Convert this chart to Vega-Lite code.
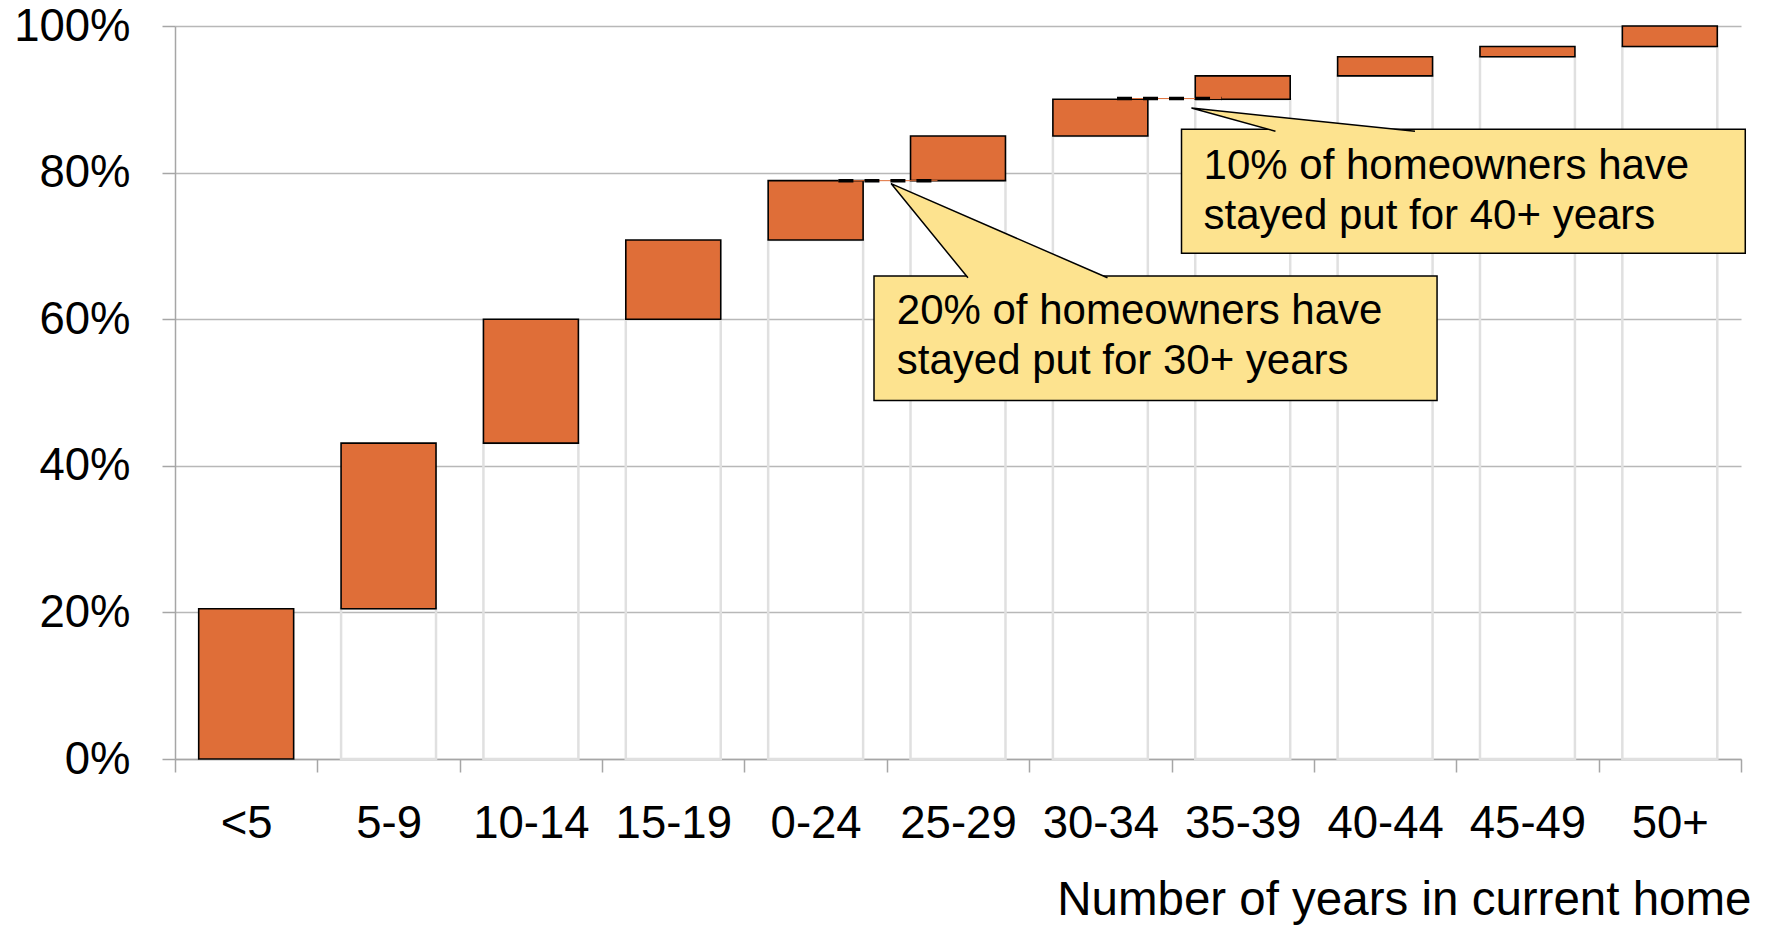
{
  "$schema": "https://vega.github.io/schema/vega-lite/v6.json",
  "width": 1566,
  "height": 733,
  "autosize": {"type": "none"},
  "padding": {"left": 175, "top": 26, "right": 28, "bottom": 167},
  "background": "white",
  "config": {
    "view": {"stroke": null},
    "font": "Liberation Sans",
    "axisY": {
      "labelFontSize": 45.5,
      "labelColor": "black",
      "labelPadding": 32,
      "tickSize": 13,
      "tickColor": "#a6a6a6",
      "tickWidth": 1.5,
      "domainColor": "#a6a6a6",
      "domainWidth": 1.5,
      "grid": true,
      "gridColor": "#b8b8b8",
      "gridWidth": 1.4
    }
  },
  "datasets": {
    "bars": [
      {"years": "<5", "start": 0, "end": 0.205},
      {"years": "5-9", "start": 0.205, "end": 0.431},
      {"years": "10-14", "start": 0.431, "end": 0.6},
      {"years": "15-19", "start": 0.6, "end": 0.708},
      {"years": "0-24", "start": 0.708, "end": 0.789},
      {"years": "25-29", "start": 0.789, "end": 0.85},
      {"years": "30-34", "start": 0.85, "end": 0.9},
      {"years": "35-39", "start": 0.9, "end": 0.932},
      {"years": "40-44", "start": 0.932, "end": 0.958},
      {"years": "45-49", "start": 0.958, "end": 0.972},
      {"years": "50+", "start": 0.972, "end": 1.0}
    ],
    "boxes": [
      {"x": 4.91, "x2": 8.865, "y": 0.659, "y2": 0.489},
      {"x": 7.07, "x2": 11.03, "y": 0.859, "y2": 0.69}
    ],
    "pointers": [
      {"id": 1, "o": 1, "x": 5.57, "y": 0.6565},
      {"id": 1, "o": 2, "x": 5.03, "y": 0.785},
      {"id": 1, "o": 3, "x": 6.55, "y": 0.6565},
      {"id": 2, "o": 1, "x": 7.73, "y": 0.8565},
      {"id": 2, "o": 2, "x": 7.14, "y": 0.888},
      {"id": 2, "o": 3, "x": 8.71, "y": 0.8565}
    ],
    "labels": [
      {"x": 5.07, "y": 0.611, "text": "20% of homeowners have"},
      {"x": 5.07, "y": 0.543, "text": "stayed put for 30+ years"},
      {"x": 7.225, "y": 0.809, "text": "10% of homeowners have"},
      {"x": 7.225, "y": 0.741, "text": "stayed put for 40+ years"}
    ],
    "connectors": [
      {"x": 4.66, "x2": 5.356, "y": 0.789},
      {"x": 6.617, "x2": 7.351, "y": 0.901}
    ]
  },
  "layer": [
    {
      "data": {"name": "bars"},
      "encoding": {
        "x": {
          "field": "years",
          "type": "nominal",
          "sort": ["<5", "5-9", "10-14", "15-19", "0-24", "25-29", "30-34", "35-39", "40-44", "45-49", "50+"],
          "scale": {"paddingInner": 0, "paddingOuter": 0},
          "axis": {
            "title": "Number of years in current home",
            "labelAngle": 0,
            "labelFontSize": 45.5,
            "labelColor": "black",
            "labelBaseline": "alphabetic",
            "labelPadding": 65,
            "tickBand": "extent",
            "tickSize": 13,
            "tickColor": "#a6a6a6",
            "tickWidth": 1.5,
            "domainColor": "#a6a6a6",
            "domainWidth": 1.5,
            "grid": false,
            "titleFontSize": 47.5,
            "titleFontWeight": "normal",
            "titleColor": "black",
            "titleAlign": "right",
            "titleAnchor": "end",
            "titleBaseline": "alphabetic",
            "titleX": 1576,
            "titleY": 155
          }
        },
        "y": {
          "field": "start",
          "type": "quantitative",
          "scale": {"domain": [0, 1], "nice": false},
          "axis": {"title": null, "values": [0, 0.2, 0.4, 0.6, 0.8, 1], "format": ".0%"}
        }
      },
      "layer": [
        {
          "mark": {"type": "bar", "width": {"band": 0.667}, "fillOpacity": 0, "fill": "white", "stroke": "#e0e0e0", "strokeWidth": 2.5},
          "encoding": {
            "y2": {"datum": 0}
          }
        },
        {
          "mark": {"type": "bar", "width": {"band": 0.667}, "color": "#DF6E38", "stroke": "black", "strokeWidth": 1.6},
          "encoding": {
            "y2": {"field": "end"}
          }
        }
      ]
    },
    {
      "encoding": {
        "x": {"field": "x", "type": "quantitative", "scale": {"domain": [0, 11], "nice": false, "zero": false}, "axis": null},
        "y": {"field": "y", "type": "quantitative", "scale": {"domain": [0, 1], "nice": false}, "axis": {"title": null, "values": [0, 0.2, 0.4, 0.6, 0.8, 1], "format": ".0%"}}
      },
      "layer": [
        {
          "data": {"name": "connectors"},
          "mark": {"type": "rule", "stroke": "#DF6E38", "strokeWidth": 1},
          "encoding": {"x2": {"field": "x2"}}
        },
        {
          "data": {"name": "connectors"},
          "mark": {"type": "rule", "stroke": "black", "strokeWidth": 3.5, "strokeDash": [15, 11]},
          "encoding": {"x2": {"field": "x2"}}
        },
        {
          "data": {"name": "boxes"},
          "mark": {"type": "rect", "fill": "#FDE38F", "stroke": "black", "strokeWidth": 1.5},
          "encoding": {"x2": {"field": "x2"}, "y2": {"field": "y2"}}
        },
        {
          "data": {"name": "pointers"},
          "mark": {"type": "line", "fill": "#FDE38F", "stroke": "black", "strokeWidth": 1.5},
          "encoding": {
            "detail": {"field": "id", "type": "nominal"},
            "order": {"field": "o", "type": "quantitative"}
          }
        },
        {
          "data": {"name": "labels"},
          "mark": {"type": "text", "align": "left", "baseline": "middle", "fontSize": 42, "color": "black"},
          "encoding": {"text": {"field": "text", "type": "nominal"}}
        }
      ]
    }
  ],
  "resolve": {"scale": {"x": "independent"}}
}
